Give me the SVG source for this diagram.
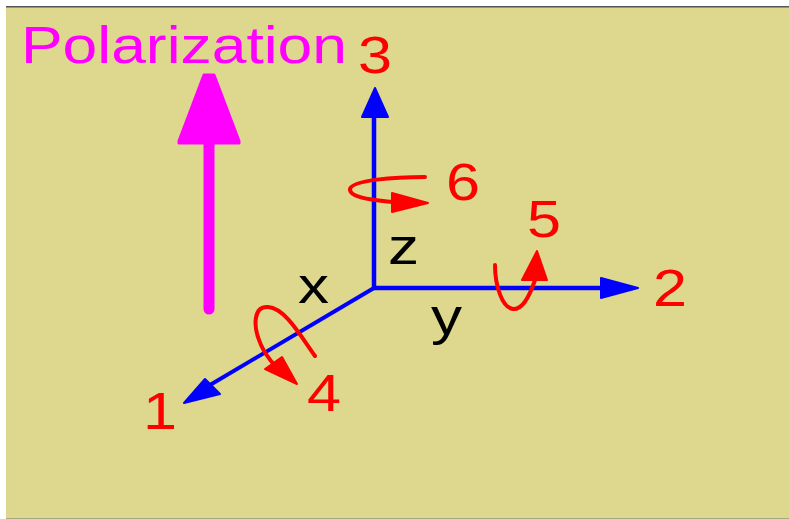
<svg xmlns="http://www.w3.org/2000/svg" width="789" height="519" viewBox="0 0 789 519">
<style>
text{font-family:"Liberation Sans",Arial,sans-serif;font-size:52px}
.r{fill:#ff0000}.k{fill:#000000}.m{fill:#ff00ff}
.axis{stroke:#0000ff;stroke-width:4.5;fill:none}
.diag{stroke:#0000ff;stroke-width:4;fill:none}
.head{fill:#0000ff;stroke:#0000ff;stroke-width:2;stroke-linejoin:round}
.rot{stroke:#ff0000;stroke-width:4;fill:none;stroke-linecap:round}
.rhead{fill:#ff0000;stroke:#ff0000;stroke-width:2;stroke-linejoin:round}
</style>
<rect x="0" y="0" width="789" height="519" fill="#ffffff"/>
<rect id="background" x="6" y="7" width="783" height="512" fill="#ded78e"/>
<rect x="6" y="6" width="783" height="1.5" fill="#555555"/>
<rect x="6" y="518" width="783" height="1" fill="#aaa680"/>
<g id="connectors">
<path class="axis" d="M374 288V115"/>
<path class="head" d="M375 88L388 117H362Z"/>
<path class="axis" d="M372 288H606"/>
<path class="head" d="M638 288L601 278V298Z"/>
<path class="diag" d="M374 288L210 385"/>
<path class="head" d="M184 403L205 379L220 394Z"/>
<path d="M209 309V140" stroke="#ff00ff" stroke-width="11" stroke-linecap="round" fill="none"/>
<path d="M204 75H214L239 141V143H179V141Z" fill="#ff00ff" stroke="#ff00ff" stroke-width="3" stroke-linejoin="round"/>
<path class="rot" d="M315 356C300 335 285 308 268 307C254 306 252 325 261 345C265 354 270 360 275 366"/>
<path class="rhead" d="M297 384L265 369L282 357Z"/>
<path class="rot" d="M425 177C395 177 352 180 350 189C349 198 375 200 392 202"/>
<path class="rhead" d="M428 203L392 193V212Z"/>
<path class="rot" d="M495 265C495 285 502 308 513 309C524 310 531 292 535 280"/>
<path class="rhead" d="M537 251L522 280H547Z"/>
</g>
<g id="polarization"><text class="m" x="21" y="63" textLength="326" lengthAdjust="spacingAndGlyphs">Polarization</text></g>
<g id="label-1"><text class="r" x="143" y="429" textLength="34" lengthAdjust="spacingAndGlyphs">1</text></g>
<g id="label-2"><text class="r" x="653" y="306" textLength="34" lengthAdjust="spacingAndGlyphs">2</text></g>
<g id="label-3"><text class="r" x="358" y="73" textLength="34" lengthAdjust="spacingAndGlyphs">3</text></g>
<g id="label-4"><text class="r" x="307" y="411" textLength="34" lengthAdjust="spacingAndGlyphs">4</text></g>
<g id="label-5"><text class="r" x="527" y="237" textLength="34" lengthAdjust="spacingAndGlyphs">5</text></g>
<g id="label-6"><text class="r" x="446" y="200" textLength="34" lengthAdjust="spacingAndGlyphs">6</text></g>
<g id="label-x"><text class="k" x="298" y="303" textLength="31" lengthAdjust="spacingAndGlyphs">x</text></g>
<g id="label-y"><text class="k" x="431" y="334" textLength="31" lengthAdjust="spacingAndGlyphs">y</text></g>
<g id="label-z"><text class="k" x="388" y="264" textLength="31" lengthAdjust="spacingAndGlyphs">z</text></g>
</svg>
